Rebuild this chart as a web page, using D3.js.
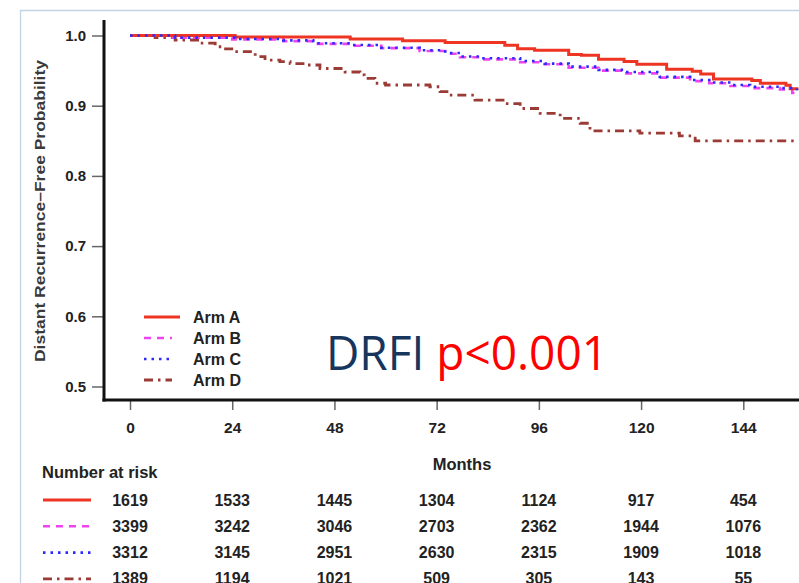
<!DOCTYPE html>
<html>
<head>
<meta charset="utf-8">
<script src="https://cdn.jsdelivr.net/npm/d3@7"></script>
<style>
  html, body { margin: 0; padding: 0; background: #fff; }
  svg { display: block; }
  text { font-family: "Liberation Sans", Arial, Helvetica, sans-serif; }
  text.note { font-family: "Open Sans", "Noto Sans", sans-serif; }
</style>
</head>
<body>
<svg id="chart" width="799" height="583"></svg>
<script>
// Kaplan-Meier step points: [month, probability]
const armA = [[0,1.0],[24.7,0.998],[51.7,0.995],[64,0.9925],[74,0.990],[88,0.986],[91,0.981],[95,0.979],[103,0.973],[106,0.972],[110,0.966],[116,0.963],[119,0.959],[126,0.952],[132,0.949],[134,0.945],[137,0.938],[146,0.936],[148,0.932],[154,0.929],[155,0.924],[156.6,0.922]];
const armB = [[0,1.0],[10,0.997],[24,0.9945],[36,0.992],[43,0.988],[52,0.9855],[59,0.982],[68,0.978],[74,0.974],[77.5,0.969],[82,0.966],[91.6,0.962],[97.4,0.959],[103,0.954],[110,0.950],[116,0.946],[124.4,0.940],[131.5,0.935],[136,0.932],[141,0.928],[145.6,0.925],[152.6,0.923],[155.5,0.918],[156.6,0.918]];
const armC = [[0,1.0],[10.6,0.997],[24.7,0.995],[36,0.993],[43,0.989],[52,0.9865],[59,0.9826],[68,0.979],[74,0.975],[77.5,0.970],[82,0.9675],[91.6,0.9637],[97.4,0.960],[103,0.9556],[110,0.951],[116,0.948],[124.4,0.941],[131.5,0.9366],[136,0.933],[141,0.9295],[145.6,0.927],[152.6,0.925],[156.6,0.922]];
const armD = [[0,1.0],[5.9,0.997],[10.6,0.9936],[16.4,0.989],[20,0.984],[21.6,0.981],[24.7,0.977],[29.4,0.970],[31.7,0.965],[35.2,0.9627],[37.6,0.960],[41,0.958],[44.6,0.953],[50.5,0.948],[54,0.944],[55,0.939],[57.5,0.932],[60,0.9295],[70.4,0.927],[72.8,0.920],[75,0.915],[81,0.908],[88,0.903],[91.6,0.896],[96.3,0.889],[101,0.882],[105.7,0.875],[108,0.864],[119.7,0.861],[129,0.857],[132.7,0.850],[156.6,0.850]];

const armNames = ["Arm A", "Arm B", "Arm C", "Arm D"];
const monthTicks = [0, 24, 48, 72, 96, 120, 144];
const probTicks = [0.5, 0.6, 0.7, 0.8, 0.9, 1.0];

// Number at risk at each month tick
const riskA = [1619, 1533, 1445, 1304, 1124, 917, 454];
const riskB = [3399, 3242, 3046, 2703, 2362, 1944, 1076];
const riskC = [3312, 3145, 2951, 2630, 2315, 1909, 1018];
const riskD = [1389, 1194, 1021, 509, 305, 143, 55];

const styles = [
  { color: "#ee3524", width: 3,   dash: null },
  { color: "#ee44ee", width: 2.6, dash: "7,6" },
  { color: "#2a2aff", width: 2.6, dash: "2.5,5" },
  { color: "#9b3b35", width: 2.8, dash: "9,5,2.5,5" }
];

const svg = d3.select("#chart");

// outer frame
svg.append("path")
  .attr("d", "M20.5,583 V10.5 H799")
  .attr("fill", "none").attr("stroke", "#c3d3e4").attr("stroke-width", 1.3);

const x = d3.scaleLinear().domain([0, 144]).range([130, 743.3]);
const y = d3.scaleLinear().domain([0.5, 1.0]).range([386.5, 35.5]);

const axisLeftX = 104, axisBottomY = 400;

// y axis ticks
const yAxis = svg.append("g")
  .attr("transform", `translate(${axisLeftX},0)`)
  .call(d3.axisLeft(y).tickValues(probTicks).tickFormat(d3.format(".1f")).tickSize(12).tickPadding(6));
yAxis.select(".domain").remove();
yAxis.selectAll(".tick line").attr("stroke", "#666").attr("stroke-width", 1.5);
yAxis.selectAll(".tick text")
  .attr("font-size", 15).attr("font-weight", "bold").attr("fill", "#222");

// x axis ticks
const xAxis = svg.append("g")
  .attr("transform", `translate(0,${axisBottomY})`)
  .call(d3.axisBottom(x).tickValues(monthTicks).tickSize(10).tickPadding(12));
xAxis.select(".domain").remove();
xAxis.selectAll(".tick line").attr("stroke", "#666").attr("stroke-width", 1.5);
xAxis.selectAll(".tick text")
  .attr("font-size", 15.5).attr("font-weight", "bold").attr("fill", "#222");

// axis lines
svg.append("line")
  .attr("x1", axisLeftX).attr("x2", axisLeftX).attr("y1", 20).attr("y2", axisBottomY + 1.5)
  .attr("stroke", "#111").attr("stroke-width", 3);
svg.append("line")
  .attr("x1", axisLeftX - 1.5).attr("x2", 799).attr("y1", axisBottomY).attr("y2", axisBottomY)
  .attr("stroke", "#111").attr("stroke-width", 3);

// axis titles
svg.append("text")
  .attr("transform", "translate(45,211) rotate(-90)")
  .attr("text-anchor", "middle")
  .attr("font-size", 15).attr("font-weight", "bold").attr("fill", "#3a3a3a")
  .attr("textLength", 302).attr("lengthAdjust", "spacingAndGlyphs")
  .text("Distant Recurrence\u2013Free Probability");

svg.append("text")
  .attr("x", 462).attr("y", 470)
  .attr("text-anchor", "middle")
  .attr("font-size", 16.5).attr("font-weight", "bold").attr("fill", "#222")
  .text("Months");

// survival curves
const line = d3.line()
  .x(d => x(d[0]))
  .y(d => y(d[1]))
  .curve(d3.curveStepAfter);

const arms = [armA, armB, armC, armD];
const curves = svg.append("g");
[3, 1, 0, 2].forEach(i => {
  curves.append("path")
    .datum(arms[i])
    .attr("d", line)
    .attr("fill", "none")
    .attr("stroke", styles[i].color)
    .attr("stroke-width", styles[i].width)
    .attr("stroke-dasharray", styles[i].dash);
});

// legend
const legend = svg.append("g");
armNames.forEach((name, i) => {
  const ly = 317 + i * 21;
  legend.append("line")
    .attr("x1", 144).attr("x2", i === 0 ? 180 : 172).attr("y1", ly).attr("y2", ly)
    .attr("stroke", styles[i].color)
    .attr("stroke-width", styles[i].width)
    .attr("stroke-dasharray", styles[i].dash);
  legend.append("text")
    .attr("x", 193).attr("y", ly + 6)
    .attr("font-size", 16).attr("font-weight", "bold").attr("fill", "#222")
    .text(name);
});

// annotation
const note = svg.append("text")
  .attr("class", "note")
  .attr("x", 326).attr("y", 370)
  .attr("font-size", 48)
  .attr("textLength", 282).attr("lengthAdjust", "spacingAndGlyphs");
note.append("tspan").attr("fill", "#17365d").text("DRFI");
note.append("tspan").attr("fill", "#ff0000").text(" p<0.001");

// number at risk table
svg.append("text")
  .attr("x", 42).attr("y", 478)
  .attr("font-size", 16.5).attr("font-weight", "bold").attr("fill", "#222")
  .text("Number at risk");

const risks = [riskA, riskB, riskC, riskD];
risks.forEach((row, i) => {
  const cy = 500 + i * 26.3;
  svg.append("line")
    .attr("x1", 43).attr("x2", 91).attr("y1", cy).attr("y2", cy)
    .attr("stroke", styles[i].color)
    .attr("stroke-width", styles[i].width)
    .attr("stroke-dasharray", styles[i].dash);
  svg.append("g").selectAll("text")
    .data(row)
    .join("text")
    .attr("x", (d, j) => x(monthTicks[j]))
    .attr("y", cy + 5.5)
    .attr("text-anchor", "middle")
    .attr("font-size", 16).attr("font-weight", "bold").attr("fill", "#222")
    .text(d => d);
});
</script>
</body>
</html>
